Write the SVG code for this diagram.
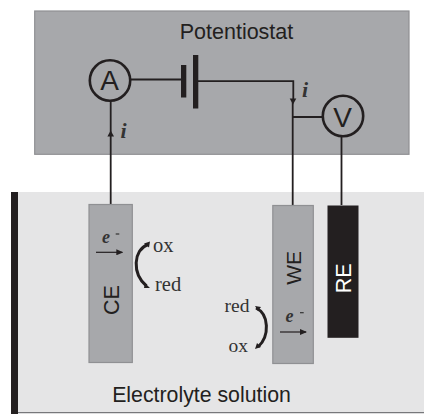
<svg xmlns="http://www.w3.org/2000/svg" width="424" height="414" viewBox="0 0 424 414">
<defs>
<style>
.s{font-family:"Liberation Sans",Arial,sans-serif;fill:#231f20}
.t{font-family:"Liberation Serif","Times New Roman",serif;font-size:20.500px;fill:#333}
.u{font-family:"Liberation Serif","Times New Roman",serif;font-size:19.500px;fill:#333}
.e{font-family:"Liberation Serif","Times New Roman",serif;font-size:18px;font-weight:bold;font-style:italic;fill:#333}
.i{font-family:"Liberation Serif","Times New Roman",serif;font-size:22px;font-weight:bold;font-style:italic;fill:#333}
.w{fill:none;stroke:#231f20;stroke-width:1.800}
.el{fill:#a7a8ab;stroke:#8f9093;stroke-width:1.200}
.c{fill:none;stroke:#231f20;stroke-width:3}
.m{fill:none;stroke:#333;stroke-width:1.200}
</style>
<marker id="h" markerWidth="7" markerHeight="6" refX="6" refY="3" orient="auto" markerUnits="userSpaceOnUse"><path d="M0 0L7 3L0 6Z" fill="#231f20"/></marker>
</defs>
<rect width="424" height="414" fill="#fff"/>
<g id="potentiostat"><rect x="34.700" y="11" width="374.300" height="143.300" fill="#a7a8ab" stroke="#8f9093" stroke-width="1.200"/><text class="s" x="236.500" y="39" font-size="21.500" text-anchor="middle">Potentiostat</text></g>
<g id="electrolyte"><rect x="11" y="192" width="413" height="220" fill="#e5e5e6"/><rect x="11" y="192" width="7" height="222" fill="#231f20"/><path d="M18 412.700H424" stroke="#77787b" stroke-width="1.200"/><text class="s" x="201.500" y="401.700" font-size="21.300" text-anchor="middle">Electrolyte solution</text></g>
<g id="connectors">
<path class="w" d="M110.700 101V205"/><path d="M110.700 130.500l-3.300 6h6.600z" fill="#231f20"/>
<path class="w" d="M131 79.500H181M198 81.200H293.300V99M292.700 99V205M292.700 117H322M341.500 137V205"/><path d="M293 104.500l-3.300-6h6.600z" fill="#231f20"/>
</g>
<g id="battery"><rect x="181" y="65" width="5.300" height="32.500" fill="#231f20"/><rect x="193" y="55" width="5.300" height="53.500" fill="#231f20"/></g>
<g id="ammeter"><circle cx="110" cy="80.500" r="20.200" fill="none" stroke="#231f20" stroke-width="2.600"/><text class="s" x="109.500" y="89.500" font-size="28" text-anchor="middle">A</text></g>
<g id="voltmeter"><circle cx="343" cy="116" r="20.200" fill="none" stroke="#231f20" stroke-width="2.600"/><text class="s" x="342.500" y="127" font-size="28" text-anchor="middle">V</text></g>
<text class="i" x="120.500" y="137.500">i</text>
<text class="i" x="302" y="97">i</text>
<g id="ce"><rect class="el" x="89" y="204.500" width="43.300" height="158"/><text class="s" transform="translate(119 315) rotate(-90)" font-size="21.500">CE</text>
<text class="e" x="102" y="243.300">e</text><path class="m" d="M115.700 234H119.300"/>
<path d="M96 252.300H122.300" stroke="#231f20" stroke-width="1.200" fill="none" marker-end="url(#h)"/>
<path class="c" d="M148 244.500C133 250 132 274 146.500 286"/><path d="M144 243.500l6-2-1 6zM145 283l5 5-6 0z" fill="#231f20"/>
<text class="t" x="153" y="252.300">ox</text><text class="t" x="155" y="291">red</text></g>
<g id="we"><rect class="el" x="272.800" y="205.500" width="40.500" height="158"/><text class="s" transform="translate(301 284.800) rotate(-90)" font-size="21">WE</text>
<text class="e" x="285.500" y="322.300">e</text><path class="m" d="M300 312.700H303.700"/>
<path d="M280 332H306" stroke="#231f20" stroke-width="1.200" fill="none" marker-end="url(#h)"/>
<path class="c" d="M256 308C269 314 270 336 258 347"/><path d="M255 306l6 1-3 4zM255 349l2-6 4 4z" fill="#231f20"/>
<text class="u" x="224.500" y="311.700">red</text><text class="u" x="228.500" y="351.700">ox</text></g>
<g id="re"><rect x="327.500" y="205.500" width="31" height="132.300" fill="#231f20"/><text class="s" transform="translate(351.300 293.200) rotate(-90)" font-size="21.500" style="fill:#fff">RE</text></g>
</svg>
